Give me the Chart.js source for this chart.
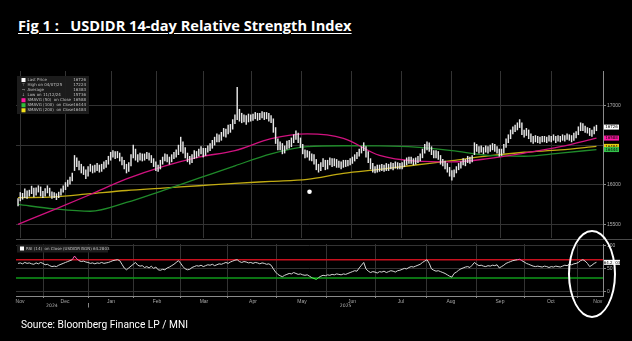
<!DOCTYPE html>
<html>
<head>
<meta charset="utf-8">
<script src="https://cdn.jsdelivr.net/npm/chart.js@4.4.1/dist/chart.umd.min.js"></script>
<style>
  html, body { margin: 0; padding: 0; background: #000; }
  body { width: 632px; height: 341px; position: relative; overflow: hidden; }
  #title { position: absolute; left: 18px; top: 18px; color: #fff; font: 700 14.6px/1 "Open Sans", sans-serif; white-space: pre; text-decoration: underline; text-underline-offset: 2px; }
  #source { position: absolute; left: 21px; top: 320px; color: #fff; font: 400 10.2px/1 Roboto, sans-serif; }
  #mainBox { position: absolute; left: 0; top: 67px; width: 632px; height: 175px; }
  #rsiBox { position: absolute; left: 0; top: 240px; width: 632px; height: 75px; }
  #sep { position: absolute; left: 16px; top: 239px; width: 616px; height: 1px; background: #4a4a4a; }
  #ring { position: absolute; left: 568px; top: 230px; width: 44px; height: 84px; border: 2px solid #fff; border-radius: 50%; }
</style>
</head>
<body>
<div id="title">Fig 1 :   USDIDR 14-day Relative Strength Index</div>
<div id="sep"></div>
<div id="mainBox"><canvas id="priceChart"></canvas></div>
<div id="rsiBox"><canvas id="rsiChart"></canvas></div>
<div id="ring"></div>
<div id="source">Source: Bloomberg Finance LP / MNI</div>

<script>
// daily bars, one per session (Nov 2024 -> early Nov 2025)
const lows = [
  15736, 15800, 15820, 15840, 15830, 15860, 15890, 15850, 15870, 15910,
  15860, 15840, 15860, 15900, 15860, 15830, 15840, 15815, 15840, 15870,
  15910, 15940, 15980, 16010, 16050, 16180, 16230, 16190, 16150, 16130,
  16080, 16110, 16170, 16150, 16160, 16180, 16160, 16170, 16200, 16220,
  16260, 16310, 16350, 16330, 16340, 16300, 16250, 16200, 16150, 16170,
  16240, 16340, 16310, 16290, 16310, 16300, 16310, 16330, 16310, 16280,
  16230, 16180, 16170, 16200, 16260, 16300, 16290, 16260, 16290, 16330,
  16350, 16380, 16420, 16400, 16340, 16290, 16260, 16280, 16330, 16340,
  16360, 16390, 16350, 16370, 16410, 16430, 16460, 16500, 16540, 16540,
  16560, 16610, 16600, 16640, 16660, 16700, 16770, 16820, 16800, 16780,
  16790, 16760, 16790, 16800, 16810, 16830, 16810, 16820, 16840, 16820,
  16830, 16800, 16780, 16660, 16520, 16440, 16440, 16390, 16400, 16450,
  16460, 16480, 16530, 16570, 16530, 16470, 16390, 16340, 16350, 16310,
  16300, 16260, 16190, 16160, 16180, 16230, 16190, 16200, 16250, 16230,
  16240, 16220, 16220, 16200, 16220, 16230, 16240, 16250, 16270, 16300,
  16330, 16360, 16400, 16430, 16350, 16280, 16200, 16160, 16150, 16160,
  16170, 16180, 16170, 16180, 16180, 16200, 16190, 16210, 16200, 16200,
  16200, 16230, 16250, 16270, 16270, 16250, 16260, 16280, 16300, 16340,
  16400, 16440, 16420, 16380, 16340, 16340, 16320, 16260, 16240, 16200,
  16160, 16110, 16060, 16100, 16150, 16190, 16210, 16250, 16240, 16280,
  16270, 16290, 16380, 16420, 16400, 16410, 16390, 16410, 16400, 16420,
  16440, 16420, 16400, 16360, 16370, 16400, 16470, 16530, 16580, 16640,
  16670, 16690, 16720, 16630, 16600, 16620, 16580, 16540, 16520, 16540,
  16530, 16520, 16540, 16540, 16530, 16550, 16540, 16560, 16530, 16550,
  16540, 16560, 16550, 16570, 16560, 16540, 16560, 16590, 16630, 16680,
  16680, 16660, 16650, 16620, 16610, 16640, 16680
];
const highs = [
  15830, 15905, 15895, 15950, 15925, 15935, 15985, 15960, 15965, 15990,
  15975, 15920, 15955, 15990, 15960, 15915, 15905, 15890, 15910, 15950,
  15990, 16030, 16060, 16100, 16150, 16370, 16340, 16300, 16260, 16230,
  16190, 16230, 16260, 16240, 16250, 16270, 16250, 16260, 16290, 16310,
  16360, 16410, 16430, 16420, 16420, 16400, 16350, 16310, 16260, 16280,
  16380, 16500, 16450, 16380, 16400, 16390, 16390, 16410, 16400, 16370,
  16330, 16290, 16250, 16310, 16350, 16390, 16380, 16350, 16380, 16410,
  16440, 16500, 16600, 16540, 16470, 16400, 16360, 16380, 16430, 16420,
  16450, 16480, 16460, 16460, 16490, 16520, 16560, 16600, 16640, 16630,
  16660, 16710, 16700, 16750, 16760, 16820, 16880, 17224, 16950, 16900,
  16880, 16870, 16890, 16880, 16890, 16910, 16900, 16900, 16920, 16910,
  16910, 16900, 16870, 16830, 16720, 16580, 16540, 16520, 16490, 16550,
  16560, 16590, 16630, 16680, 16650, 16590, 16510, 16440, 16430, 16420,
  16390, 16380, 16320, 16260, 16280, 16330, 16310, 16310, 16340, 16330,
  16330, 16320, 16300, 16290, 16310, 16310, 16310, 16330, 16350, 16380,
  16410, 16450, 16480, 16530, 16480, 16420, 16330, 16270, 16230, 16250,
  16250, 16260, 16250, 16270, 16260, 16280, 16270, 16290, 16280, 16270,
  16280, 16310, 16340, 16350, 16350, 16330, 16340, 16360, 16390, 16450,
  16510, 16540, 16530, 16480, 16430, 16430, 16420, 16370, 16320, 16300,
  16270, 16220, 16180, 16190, 16230, 16270, 16290, 16330, 16320, 16360,
  16350, 16370, 16530, 16510, 16480, 16490, 16470, 16490, 16480, 16500,
  16520, 16510, 16480, 16450, 16450, 16510, 16580, 16630, 16690, 16730,
  16750, 16780, 16820, 16780, 16690, 16710, 16690, 16640, 16610, 16620,
  16610, 16600, 16610, 16610, 16600, 16620, 16610, 16630, 16610, 16620,
  16610, 16630, 16620, 16640, 16630, 16620, 16650, 16670, 16730, 16780,
  16770, 16740, 16720, 16710, 16690, 16730, 16750
];

// moving averages, sampled every 16 sessions
const maSessions = [0, 16, 32, 48, 64, 80, 96, 112, 128, 144, 160, 176, 192, 208, 224, 240, 256];
const sma50  = [15505, 15690, 15880, 16075, 16230, 16350, 16430, 16580, 16640, 16585, 16370, 16300, 16290, 16330, 16400, 16480, 16588];
const sma100 = [15755, 15700, 15670, 15780, 15930, 16085, 16240, 16390, 16480, 16492, 16490, 16475, 16430, 16370, 16360, 16400, 16444];
const sma200 = [15840, 15850, 15890, 15930, 15960, 15990, 16020, 16045, 16070, 16145, 16195, 16250, 16305, 16365, 16410, 16440, 16484];

// RSI(14), one value per session
const rsi = [
  62, 63, 61, 64, 62, 63, 61, 60, 63, 61, 64, 62, 59, 60, 57, 55, 56, 55, 58, 60, 62, 64, 66, 68, 70,
  78, 72, 68, 66, 67, 65, 64, 62, 63, 61, 63, 62, 64, 62, 63, 64, 66, 68, 69, 70, 68, 60, 52, 48, 52, 56, 60, 64,
  58, 56, 57, 53, 55, 52, 56, 51, 54, 48, 47, 49, 48, 52, 54, 57, 60, 64, 68, 62, 55, 50, 48, 49,
  53, 55, 57, 56, 58, 55, 57, 59, 58, 60, 57, 59, 61, 60, 62, 64, 62, 65, 67, 69, 70, 66, 64, 66, 65,
  63, 64, 62, 64, 63, 61, 63, 62, 60, 61,
  58, 50, 43, 38, 35, 33, 36, 38, 40, 39, 42, 40, 38, 39, 37, 36, 37, 34, 31, 29, 27,
  31, 34, 36, 35, 37, 36, 38, 37, 39, 38, 37, 39, 38, 40, 42, 44, 46, 45, 52, 58, 64,
  50, 45, 42, 44, 43, 41, 44, 43, 45, 42, 44, 46, 45, 43, 46, 47, 49, 51, 50, 53, 55, 54, 56, 58, 60, 64, 67, 70, 62,
  50, 47, 45, 46, 44, 42, 40, 37, 34, 32, 40, 43, 47, 50, 52, 54, 55, 53, 58, 64,
  60, 57, 58, 56, 55, 57, 56, 58, 57, 59, 52, 55, 58, 62, 64, 66, 68, 69, 70, 71, 68, 65, 62, 60, 58, 56, 55, 56,
  55, 54, 56, 55, 53, 55, 54, 56, 55, 54, 56, 58, 57, 60, 59, 61, 62, 64, 68, 70, 67, 62, 55, 58, 62, 64.28
];
const rsiBands = [70, 30];

// axis ticks
const monthNames = ['Nov', 'Dec', 'Jan', 'Feb', 'Mar', 'Apr', 'May', 'Jun', 'Jul', 'Aug', 'Sep', 'Oct', 'Nov'];
const monthMids = [0.9, 20.8, 41.2, 61.5, 82.3, 104, 125.7, 147.8, 169.5, 191.6, 213.3, 235.8, 256.6];
const monthEdges = [11.1, 31, 51.3, 71.7, 92.5, 114.6, 136.7, 158.4, 181, 202.7, 224.3, 247.8];
const yearNames = ['2024', '2025'];
const yearMids = [15, 145];
const yearBreak = 31;
const priceTicks = [15500, 16000, 16500, 17000];
const rsiTicks = [0, 50, 100];

// legend text
const legendLabels = ['Last Price', 'High on 04/07/25', 'Average', 'Low on 11/12/24', 'SMAVG (50)  on Close', 'SMAVG (100)  on Close', 'SMAVG (200)  on Close'];
const legendValues = ['16726', '17224', '16383', '15736', '16588', '16444', '16484'];
const rsiLegend = 'RSI (14)  on Close (USDIDR BGN) 64.2803';
const lastRsi = 64.2803;
const dotSession = [129];
const dotPrice = [15915];

const C_BAR = '#e6e6e6';
const C_50 = '#d0127f';
const C_100 = '#1f8a2a';
const C_200 = '#c2ac12';
const C_GRID = '#333';
const C_AXIS = '#8a8a8a';
const TINY = '4.6px "DejaVu Sans", sans-serif';
const LEG = '4px "DejaVu Sans", sans-serif';
const X_MIN = -0.9, X_MAX = 258.9;

const maLine = (vals, color) => ({
  type: 'line',
  data: vals.map((v, i) => ({ x: maSessions[i], y: v })),
  borderColor: color,
  borderWidth: 1.3,
  pointRadius: 0,
  cubicInterpolationMode: 'monotone',
  order: 2
});

const legendBox = {
  id: 'legendBox',
  afterDraw(chart) {
    const ctx = chart.ctx;
    const x0 = chart.chartArea.left + 1, y0 = chart.chartArea.top + 5;
    const icons = ['sq', '⊤', '→', '↓', 'sq', 'sq', 'sq'];
    const iconColors = ['#fff', '#aaa', '#aaa', '#aaa', '#ff1aa3', '#2fbf3a', '#f2e01a'];
    ctx.save();
    ctx.fillStyle = 'rgba(30,30,30,0.95)';
    ctx.fillRect(x0, y0, 72, 38);
    ctx.font = LEG;
    ctx.textBaseline = 'middle';
    legendLabels.forEach((t, k) => {
      const y = y0 + 4 + k * 5.05;
      ctx.fillStyle = iconColors[k];
      if (icons[k] === 'sq') {
        ctx.fillRect(x0 + 4.5, y - 2, 4, 4);
      } else {
        ctx.textAlign = 'center';
        ctx.fillText(icons[k], x0 + 6.5, y);
      }
      ctx.fillStyle = '#c0c0c0';
      ctx.textAlign = 'left';
      ctx.fillText(t, x0 + 10.5, y);
      ctx.textAlign = 'right';
      ctx.fillText(legendValues[k], x0 + 69, y);
    });
    ctx.restore();
  }
};

const priceTags = {
  id: 'priceTags',
  afterDraw(chart) {
    const ctx = chart.ctx, ys = chart.scales.y, x0 = chart.chartArea.right + 1;
    const tags = [
      { v: +legendValues[0], c: '#ffffff' },
      { v: +legendValues[4], c: '#ff1aa3' },
      { v: +legendValues[6], c: '#e6cf12' },
      { v: +legendValues[5], c: '#33c24a' }
    ];
    ctx.save();
    ctx.font = LEG;
    ctx.textAlign = 'center';
    ctx.textBaseline = 'middle';
    tags.forEach(t => {
      const py = ys.getPixelForValue(t.v);
      ctx.fillStyle = t.c;
      ctx.fillRect(x0, py - 2.5, 15, 5);
      ctx.fillStyle = '#000';
      ctx.fillText(String(t.v), x0 + 7.5, py + 0.2);
    });
    ctx.restore();
  }
};

new Chart(document.getElementById('priceChart'), {
  type: 'bar',
  data: {
    datasets: [
      {
        type: 'bar',
        data: lows.map((lo, i) => ({ x: i, y: [lo, highs[i]] })),
        backgroundColor: C_BAR,
        barThickness: 0.8,
        grouped: false,
        order: 1
      },
      maLine(sma50, C_50),
      maLine(sma100, C_100),
      maLine(sma200, C_200),
      {
        type: 'line',
        data: dotSession.map((s, i) => ({ x: s, y: dotPrice[i] })),
        showLine: false,
        pointRadius: 2.3,
        pointBackgroundColor: '#fff',
        pointBorderWidth: 0,
        order: 0
      }
    ]
  },
  options: {
    responsive: true,
    maintainAspectRatio: false,
    animation: false,
    events: [],
    layout: { padding: { left: 16, top: 0, right: 0, bottom: 0 } },
    plugins: { legend: { display: false }, tooltip: { enabled: false } },
    scales: {
      x: {
        type: 'linear',
        min: X_MIN,
        max: X_MAX,
        offset: false,
        afterBuildTicks: s => { s.ticks = monthEdges.map(v => ({ value: v })); },
        ticks: { display: false },
        grid: { color: C_GRID, drawTicks: false },
        border: { display: false },
        afterFit: s => { s.height = 0; }
      },
      y: {
        position: 'right',
        min: 15334,
        max: 17430,
        afterBuildTicks: s => { s.ticks = priceTicks.map(v => ({ value: v })); },
        ticks: { color: '#b0b0b0', font: { size: 5 }, padding: 1, callback: v => (v === 16500 ? '' : String(v)) },
        grid: { color: C_GRID, tickLength: 3, tickColor: C_AXIS },
        border: { color: C_AXIS },
        afterFit: s => { s.width = 29; }
      }
    }
  },
  plugins: [legendBox, priceTags]
});

const rsiExtras = {
  id: 'rsiExtras',
  afterDraw(chart) {
    const ctx = chart.ctx, xs = chart.scales.x, ys = chart.scales.y, a = chart.chartArea;
    ctx.save();
    ctx.textBaseline = 'middle';
    // legend
    ctx.font = LEG;
    ctx.fillStyle = 'rgba(30,30,30,0.95)';
    ctx.fillRect(a.left + 1, a.top + 0.5, 91, 8);
    ctx.fillStyle = '#fff';
    ctx.fillRect(a.left + 4, a.top + 2.5, 4, 4);
    ctx.fillStyle = '#c0c0c0';
    ctx.textAlign = 'left';
    ctx.fillText(rsiLegend, a.left + 10, a.top + 4.6);
    // last value tag
    const py = ys.getPixelForValue(lastRsi);
    ctx.fillStyle = '#fff';
    ctx.fillRect(a.right + 1, py - 2.5, 16, 5);
    ctx.fillStyle = '#000';
    ctx.textAlign = 'center';
    ctx.fillText(lastRsi.toFixed(4), a.right + 9, py + 0.2);
    // year row
    ctx.font = TINY;
    ctx.fillStyle = '#a8a8a8';
    yearNames.forEach((t, k) => ctx.fillText(t, xs.getPixelForValue(yearMids[k]), a.bottom + 9.5));
    ctx.fillRect(xs.getPixelForValue(yearBreak), a.bottom + 7, 0.8, 4.5);
    ctx.restore();
  }
};

const bandColor = c => (c.p0.parsed.y > 70 || c.p1.parsed.y > 70) ? '#ff5fb8'
  : (c.p0.parsed.y < 30 || c.p1.parsed.y < 30) ? '#4cff4c' : undefined;

new Chart(document.getElementById('rsiChart'), {
  type: 'line',
  data: {
    datasets: [
      {
        data: rsi.map((v, i) => ({ x: i, y: v })),
        borderColor: '#d6d6d6',
        borderWidth: 1,
        pointRadius: 0,
        segment: { borderColor: bandColor },
        order: 0
      },
      ...rsiBands.map((b, k) => ({
        data: [{ x: X_MIN, y: b }, { x: X_MAX, y: b }],
        borderColor: k === 0 ? '#c8101e' : '#0f9a1a',
        borderWidth: 1.4,
        pointRadius: 0,
        order: 1
      }))
    ]
  },
  options: {
    responsive: true,
    maintainAspectRatio: false,
    animation: false,
    events: [],
    layout: { padding: { left: 16, top: 0, right: 0, bottom: 0 } },
    plugins: { legend: { display: false }, tooltip: { enabled: false } },
    scales: {
      x: {
        type: 'linear',
        min: X_MIN,
        max: X_MAX,
        offset: false,
        afterBuildTicks: s => {
          s.ticks = monthEdges.concat(monthMids).sort((p, q) => p - q).map(v => ({ value: v }));
        },
        ticks: {
          autoSkip: false,
          maxRotation: 0,
          color: '#a8a8a8',
          font: { size: 5 },
          padding: 1,
          callback: v => { const k = monthMids.indexOf(v); return k < 0 ? '' : monthNames[k]; }
        },
        grid: {
          color: c => (monthEdges.includes(c.tick.value) ? C_GRID : 'rgba(0,0,0,0)'),
          tickColor: c => (monthEdges.includes(c.tick.value) ? C_AXIS : 'rgba(0,0,0,0)'),
          tickLength: 2
        },
        border: { color: C_AXIS },
        afterFit: s => { s.height = 19; }
      },
      y: {
        position: 'right',
        min: -9.2,
        max: 104.3,
        afterBuildTicks: s => { s.ticks = rsiTicks.map(v => ({ value: v })); },
        ticks: { color: '#b0b0b0', font: { size: 5 }, padding: 1 },
        grid: { color: C_GRID, tickLength: 3, tickColor: C_AXIS },
        border: { color: C_AXIS },
        afterFit: s => { s.width = 29; }
      }
    }
  },
  plugins: [rsiExtras]
});
</script>
</body>
</html>
